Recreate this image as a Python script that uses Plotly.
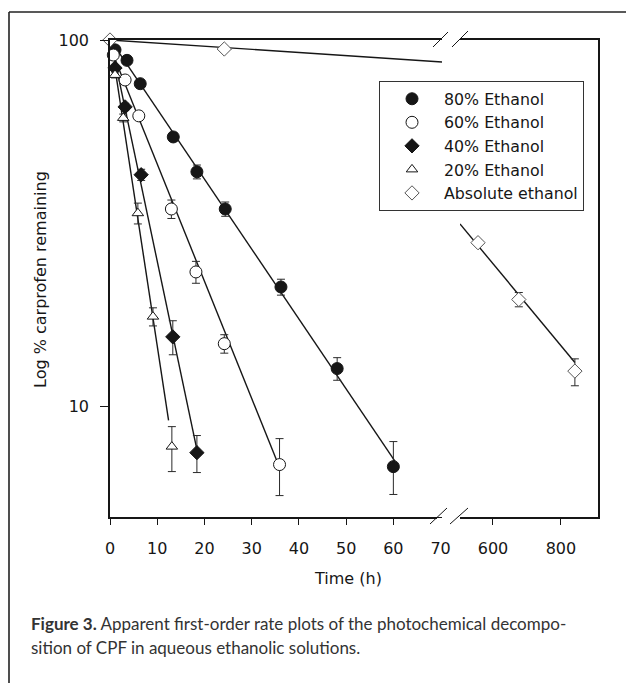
import plotly.graph_objects as go
import math

# ---------------- data ----------------
t80 = [1.06, 3.6, 6.4, 13.4, 18.4, 24.4, 36.2, 48.1, 60.0]
y80 = [94, 88, 76, 54.4, 43.7, 34.6, 21.2, 12.7, 6.86]
e80_up = [2.0, 2.0, 2.0, 1.5, 1.9, 1.55, 1.06, 0.9, 1.17]
e80_dn = [2.0, 2.0, 2.0, 1.5, 1.9, 1.55, 1.06, 0.9, 1.10]

t60 = [0.7, 3.2, 6.1, 13.0, 18.2, 24.2, 35.9]
y60 = [91, 77.8, 62.1, 34.6, 23.3, 14.85, 6.95]
e60_up = [1.5, 1.5, 1.5, 2.0, 1.6, 0.86, 1.23]
e60_dn = [1.5, 1.5, 1.5, 2.0, 1.6, 0.86, 1.23]

t40 = [1.06, 3.2, 6.6, 13.3, 18.4]
y40 = [83.9, 65.7, 42.9, 15.5, 7.49]
e40_up = [1.5, 1.5, 1.5, 1.65, 0.85]
e40_dn = [1.5, 1.5, 1.5, 1.65, 0.88]

t20 = [1.06, 2.8, 5.9, 9.1, 13.1]
y20 = [80.3, 61.3, 33.7, 17.6, 7.78]
e20_up = [1.5, 1.5, 2.2, 1.0, 1.04]
e20_dn = [1.5, 1.5, 2.2, 1.0, 1.13]

tabs_short = [0, 24.2]
yabs_short = [100, 94.5]
tabs_long = [556, 676, 841]
yabs_long = [28.0, 19.6, 12.5]
eabs_up = [0.5, 0.88, 1.0]
eabs_dn = [0.5, 0.88, 1.1]

# fitted first-order lines (end points)
fit80_t, fit80_y = [1.06, 60.4], [95.9, 7.08]
fit60_t, fit60_y = [0.7, 35.9], [91.0, 6.82]
fit40_t, fit40_y = [1.06, 18.4], [87.9, 7.63]
fit20_t, fit20_y = [1.06, 12.4], [83.7, 9.17]
fitabs_short_t, fitabs_short_y = [0, 70.3], [100, 87.1]
fitabs_long_t, fitabs_long_y = [503, 841], [31.5, 13.2]

xticks_left = [0, 10, 20, 30, 40, 50, 60, 70]
xticks_right = [600, 800]
yticks = [10, 100]

# ---------------- layout helpers ----------------
# the page body adds an 8 px margin, so the figure is 8 px smaller than the window
OFF = 8
W, H = 634 - OFF, 683 - OFF
L, R, T, B = 110 - OFF, 36, 40 - OFF, 166
PW, PH = W - L - R, H - T - B


def px(x):  # screen x -> paper
    return (x - OFF - L) / PW


def py(y):  # screen y -> paper
    return (T + PH + OFF - y) / PH


FONT = "DejaVu Sans"
INK = "#161616"

fig = go.Figure()

line_style = dict(color=INK, width=1.4)
for tt, yy in [(fit80_t, fit80_y), (fit60_t, fit60_y), (fit40_t, fit40_y), (fit20_t, fit20_y),
               (fitabs_short_t, fitabs_short_y)]:
    fig.add_trace(go.Scatter(x=tt, y=yy, mode="lines", line=line_style, showlegend=False,
                             hoverinfo="skip", xaxis="x", yaxis="y"))
fig.add_trace(go.Scatter(x=fitabs_long_t, y=fitabs_long_y, mode="lines", line=line_style,
                         showlegend=False, hoverinfo="skip", xaxis="x2", yaxis="y2"))


def err(up, dn):
    return dict(type="data", symmetric=False, array=up, arrayminus=dn,
                color="#2a2a2a", thickness=1, width=4)


series = [
    ("80% Ethanol", t80, y80, e80_up, e80_dn, dict(symbol="circle", size=12, color=INK,
                                                   line=dict(color=INK, width=1))),
    ("60% Ethanol", t60, y60, e60_up, e60_dn, dict(symbol="circle", size=12, color="white",
                                                   line=dict(color=INK, width=1))),
    ("40% Ethanol", t40, y40, e40_up, e40_dn, dict(symbol="diamond", size=11, color=INK,
                                                   line=dict(color=INK, width=1))),
    ("20% Ethanol", t20, y20, e20_up, e20_dn, dict(symbol="triangle-up", size=10, color="white",
                                                   line=dict(color=INK, width=1))),
]
for name, tt, yy, eu, ed, mk in series:
    fig.add_trace(go.Scatter(x=tt, y=yy, mode="markers", name=name, marker=mk,
                             error_y=err(eu, ed), cliponaxis=False, xaxis="x", yaxis="y"))

abs_marker = dict(symbol="diamond", size=11, color="white", line=dict(color="#555555", width=1))
fig.add_trace(go.Scatter(x=tabs_short, y=yabs_short, mode="markers", name="Absolute ethanol",
                         legendgroup="abs", marker=abs_marker, cliponaxis=False,
                         xaxis="x", yaxis="y"))
fig.add_trace(go.Scatter(x=tabs_long, y=yabs_long, mode="markers", name="Absolute ethanol",
                         legendgroup="abs", showlegend=False, marker=abs_marker,
                         error_y=err(eabs_up, eabs_dn), cliponaxis=False,
                         xaxis="x2", yaxis="y2"))

tickfont = dict(family=FONT, size=16, color=INK)
axis_common = dict(showline=True, linecolor=INK, linewidth=1.5, showgrid=False, zeroline=False,
                   ticks="outside", tickcolor=INK, tickwidth=1, tickfont=tickfont)

fig.update_layout(
    width=W, height=H,
    margin=dict(l=L, r=R, t=T, b=B),
    paper_bgcolor="white", plot_bgcolor="white",
    xaxis=dict(domain=[0, px(442)], range=[0, 70.3], anchor="y", mirror=True,
               tickvals=xticks_left, ticktext=[str(v) for v in xticks_left], ticklen=6,
               ticklabelstandoff=10, **axis_common),
    xaxis2=dict(domain=[px(460), 1], range=[503, 909], anchor="y2", mirror=True,
                tickvals=xticks_right, ticktext=[str(v) for v in xticks_right], ticklen=6,
                ticklabelstandoff=10, **axis_common),
    yaxis=dict(type="log", range=[math.log10(5), 2], anchor="x", tickvals=yticks,
               ticktext=[str(v) for v in yticks], ticklen=8, ticklabelstandoff=8, **axis_common),
    yaxis2=dict(type="log", range=[math.log10(5), 2], anchor="x2", side="right",
                matches="y", showline=True, linecolor=INK, linewidth=1.5, showgrid=False,
                zeroline=False, ticks="", showticklabels=False),
    legend=dict(x=px(379), y=py(81), xanchor="left", yanchor="top", bgcolor="white",
                bordercolor="#333333", borderwidth=1,
                font=dict(family=FONT, size=15.8, color=INK),
                itemwidth=54, tracegroupgap=0),
    showlegend=True,
)

shapes = []
# mask tick at the axis break
shapes.append(dict(type="rect", xref="paper", yref="paper", x0=px(437), x1=px(446),
                   y0=py(527), y1=py(518), fillcolor="white", line=dict(width=0), layer="above"))
# break slashes
for (x0, y0, x1, y1) in [(430, 524, 447, 508), (450, 524, 468, 508),
                         (433, 47, 448, 32), (452, 47, 468, 31)]:
    shapes.append(dict(type="line", xref="paper", yref="paper", x0=px(x0), y0=py(y0),
                       x1=px(x1), y1=py(y1), line=dict(color=INK, width=1), layer="above"))
# outer frame (left and top)
shapes.append(dict(type="line", xref="paper", yref="paper", x0=px(9), x1=px(9),
                   y0=py(12), y1=py(700), line=dict(color="#222222", width=1.6)))
shapes.append(dict(type="line", xref="paper", yref="paper", x0=px(9), x1=px(650),
                   y0=py(12), y1=py(12), line=dict(color="#222222", width=1.6)))
fig.update_layout(shapes=shapes)

ann = []
ann.append(dict(text="Time (h)", xref="paper", yref="paper", x=px(347.5), y=py(578),
                xanchor="center", yanchor="middle", showarrow=False,
                font=dict(family=FONT, size=16, color=INK)))
ann.append(dict(text="Log % carprofen remaining", xref="paper", yref="paper", x=px(40), y=py(280),
                xanchor="center", yanchor="middle", textangle=-90, showarrow=False,
                font=dict(family=FONT, size=16, color=INK)))
cap_font = dict(family="Lato", size=17, color="#333333")
ann.append(dict(text="<b>Figure 3.</b> Apparent first-order rate plots of the photochemical decompo-",
                xref="paper", yref="paper", x=px(29), y=py(623), xanchor="left", yanchor="middle",
                showarrow=False, font=cap_font))
ann.append(dict(text="sition of CPF in aqueous ethanolic solutions.",
                xref="paper", yref="paper", x=px(29), y=py(647), xanchor="left", yanchor="middle",
                showarrow=False, font=cap_font))
fig.update_layout(annotations=ann)

fig.write_html("out.html")
